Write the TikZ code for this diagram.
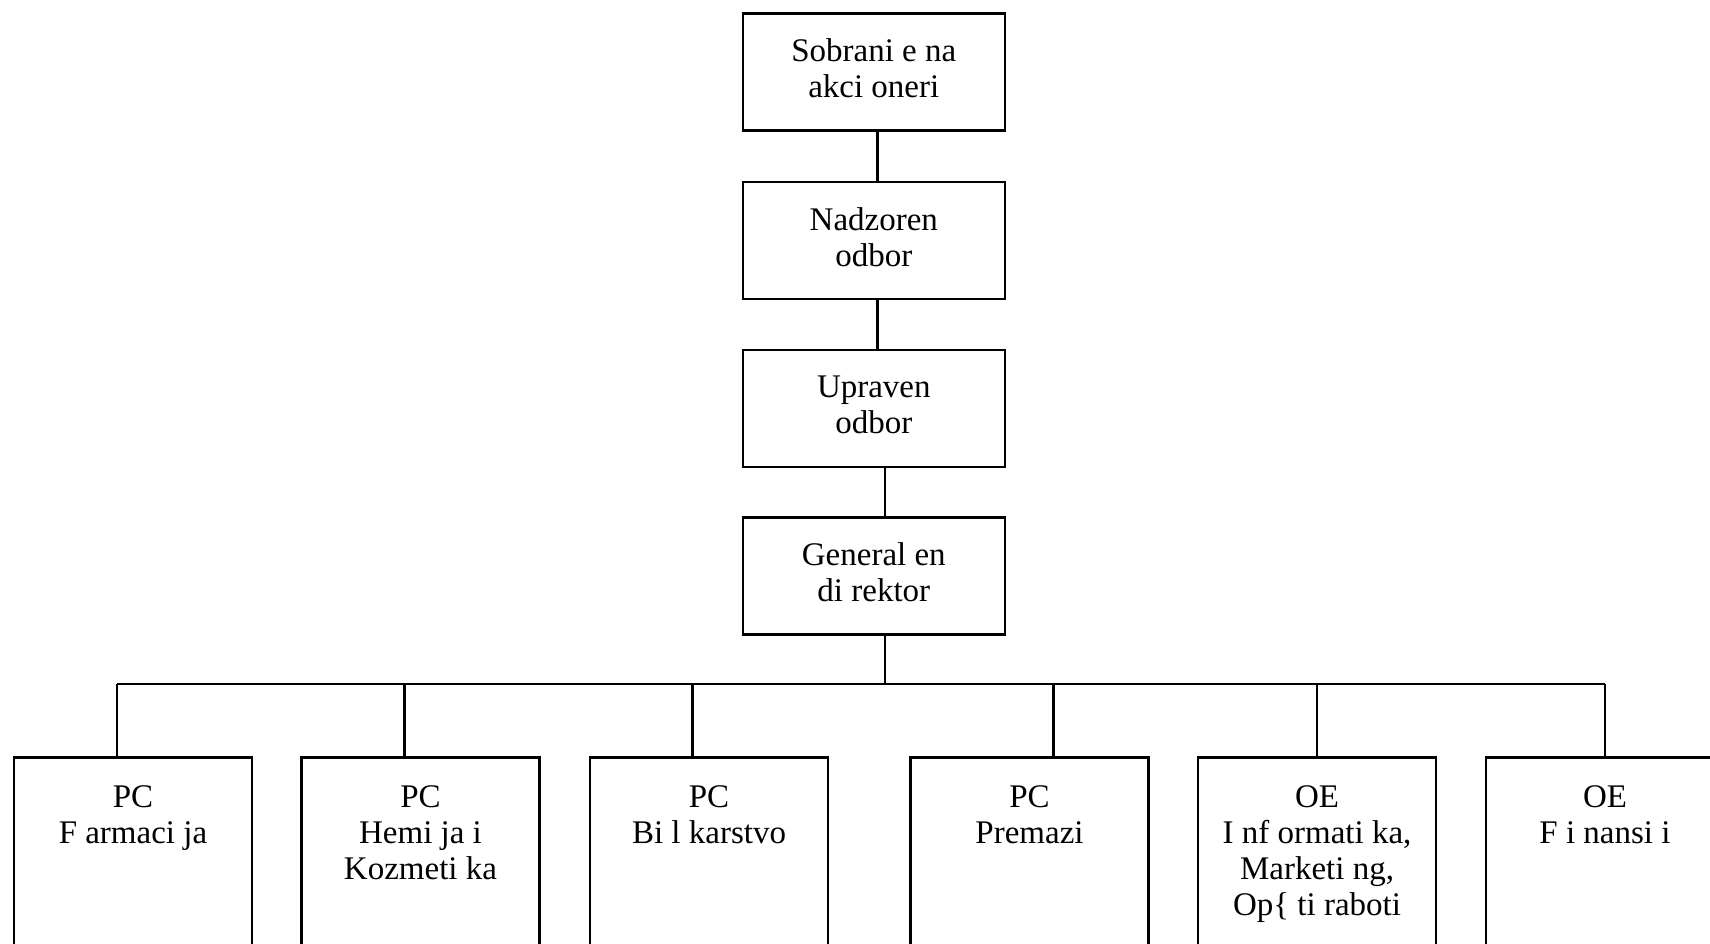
\documentclass[tikz,border=0pt]{standalone}
\usepackage{fontspec}
\setmainfont{Liberation Serif}
\usetikzlibrary{positioning}

\begin{document}
\begin{tikzpicture}[x=1pt, y=-1pt,
    topbox/.style = {rectangle, draw, line width=2.5pt,
      minimum width=262pt, minimum height=117pt, align=center, inner sep=0pt,
      text depth=7pt, font=\fontsize{33}{36}\selectfont},
    unitbox/.style = {rectangle, draw, line width=2.5pt, anchor=north,
      minimum width=238pt, minimum height=260pt},
    unittxt/.style = {anchor=north, align=center, inner sep=0pt,
      font=\fontsize{33}{36}\selectfont},
    link/.style = {line width=2.5pt},
  ]
\clip (0,0) rectangle (1710,944);

\node[topbox] (sobr) at (873.8,72)    {Sobrani e na\\akci oneri};
\node[topbox] (nadz) at (873.8,240.3) {Nadzoren\\odbor};
\node[topbox] (uprv) at (873.8,408.4) {Upraven\\odbor};
\node[topbox] (gend) at (873.8,576)   {General en\\di rektor};

\node[unitbox] (farm) at (133,756)    {};
\node[unitbox] (hemi) at (420.5,756)  {};
\node[unitbox] (bilk) at (709,756)    {};
\node[unitbox] (prem) at (1029.5,756) {};
\node[unitbox] (info) at (1317,756)   {};
\node[unitbox] (fina) at (1605,756)   {};

\node[unittxt] (farm-t) at (133,785)    {PC\\F armaci ja};
\node[unittxt] (hemi-t) at (420.5,785)  {PC\\Hemi ja i\\Kozmeti ka};
\node[unittxt] (bilk-t) at (709,785)    {PC\\Bi l karstvo};
\node[unittxt] (prem-t) at (1029.5,785) {PC\\Premazi};
\node[unittxt] (info-t) at (1317,785)   {OE\\I nf ormati ka,\\Marketi ng,\\Op\{ ti raboti};
\node[unittxt] (fina-t) at (1605,785)   {OE\\F i nansi i};

\coordinate (busL) at (117,684);
\coordinate (busR) at (1605,684);

\draw[link] ([xshift=3.5pt]sobr.south) -- ([xshift=3.5pt]nadz.north);
\draw[link] ([xshift=3.5pt]nadz.south) -- ([xshift=3.5pt]uprv.north);
\draw[link] ([xshift=11pt]uprv.south) -- ([xshift=11pt]gend.north);
\draw[link] ([xshift=11pt]gend.south) -- ([xshift=11pt]gend.south |- busL);
\draw[link] (busL) -- (busR);
\foreach \n/\dx in {farm/-16, hemi/-16, bilk/-16.5, prem/24, info/0, fina/0}
  \draw[link] ([xshift=\dx pt]\n.north) -- ([xshift=\dx pt]\n.north |- busL);
\end{tikzpicture}
\end{document}
